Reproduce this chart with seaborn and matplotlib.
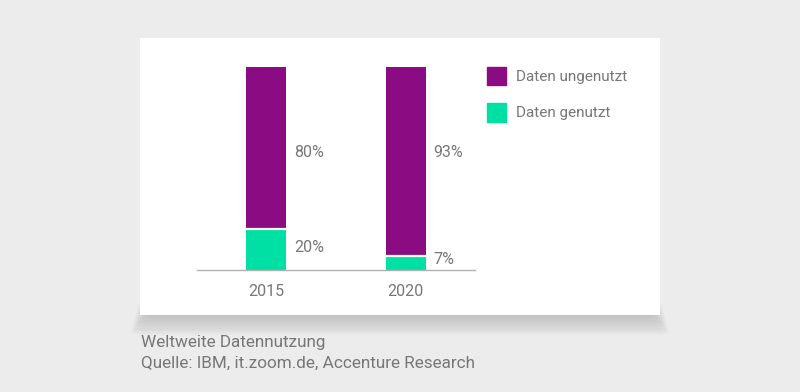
import pandas as pd
import numpy as np
import matplotlib.pyplot as plt
import matplotlib.patches as mpatches
import seaborn as sns

jahre = ["2015", "2020"]
genutzt = [20, 7]
ungenutzt = [80, 93]

lila = "#8a0b82"
gruen = "#00e0a5"
grau_text = "#777777"

sns.set_style("white")
plt.rcParams["font.family"] = ["Roboto", "DejaVu Sans"]

df = pd.DataFrame({"jahr": jahre, "genutzt": genutzt, "ungenutzt": ungenutzt})
df["gesamt"] = df["genutzt"] + df["ungenutzt"]

fig = plt.figure(figsize=(8, 3.92), dpi=100)
fig.patch.set_facecolor("#ececec")

# weicher schatten unter der karte (in pixeln gerechnet)
W, H = 800, 392
for i in range(16):
    x0 = 146 - i * 1.0
    breite = 508 + i * 2.0
    y0 = 78 - i * 1.4   # unterkante der karte bei 77 px von unten
    hoehe = 40 - 2.2 * i
    fig.patches.append(mpatches.FancyBboxPatch((x0 / W, y0 / H), breite / W, hoehe / H,
                                               boxstyle="round,pad=0,rounding_size=0.01",
                                               transform=fig.transFigure, color="#000000", alpha=0.017,
                                               zorder=0, lw=0))
# weisse karte
fig.patches.append(mpatches.Rectangle((140 / W, 77 / H), 520 / W, 277 / H, transform=fig.transFigure,
                                      facecolor="white", edgecolor="none", zorder=1))

ax = fig.add_axes([0.246, 0.311, 0.348, 0.518])
ax.set_zorder(3)
ax.set_facecolor("none")
sns.barplot(data=df, x="jahr", y="gesamt", color=lila, width=0.288, linewidth=0, saturation=1, ax=ax)
sns.barplot(data=df, x="jahr", y="genutzt", color=gruen, width=0.288, linewidth=0, saturation=1, ax=ax)
# weisse trennlinie zwischen den segmenten
x_pos = np.arange(len(jahre))
ax.hlines(genutzt, x_pos - 0.144, x_pos + 0.144, colors="white", linewidth=1.6)
ax.set_xlim(-0.5, 1.5)
ax.set_ylim(0, 100)
ax.set_xlabel("")
ax.set_ylabel("")
ax.set_yticks([])
ax.tick_params(axis="x", length=0, pad=10, labelsize=11.5, labelcolor=grau_text)
for s in ["top", "left", "right"]:
    ax.spines[s].set_visible(False)
ax.spines["bottom"].set_color("#b0b0b0")
ax.spines["bottom"].set_linewidth(1)

for i in range(len(jahre)):
    ax.text(i + 0.2, 58, f"{ungenutzt[i]}%", va="center", ha="left", fontsize=11.5, color=grau_text)
    ax.text(i + 0.2, max(genutzt[i] / 2 + 1, 5), f"{genutzt[i]}%", va="center", ha="left",
            fontsize=11.5, color=grau_text)

handles = [mpatches.Patch(color=lila, label="Daten ungenutzt"),
           mpatches.Patch(color=gruen, label="Daten genutzt")]
leg = fig.legend(handles=handles, loc="upper left", bbox_to_anchor=(0.591, 0.865), frameon=False,
                 handlelength=1.3, handleheight=1.5, handletextpad=0.65, labelspacing=1.15,
                 fontsize=11, labelcolor=grau_text)
leg.set_zorder(4)

fig.text(0.176, 0.125, "Weltweite Datennutzung", fontsize=12.3, color=grau_text, va="center")
fig.text(0.176, 0.072, "Quelle: IBM, it.zoom.de, Accenture Research", fontsize=12.3, color=grau_text,
         va="center")

plt.savefig("out.png", dpi=100, facecolor=fig.get_facecolor())
